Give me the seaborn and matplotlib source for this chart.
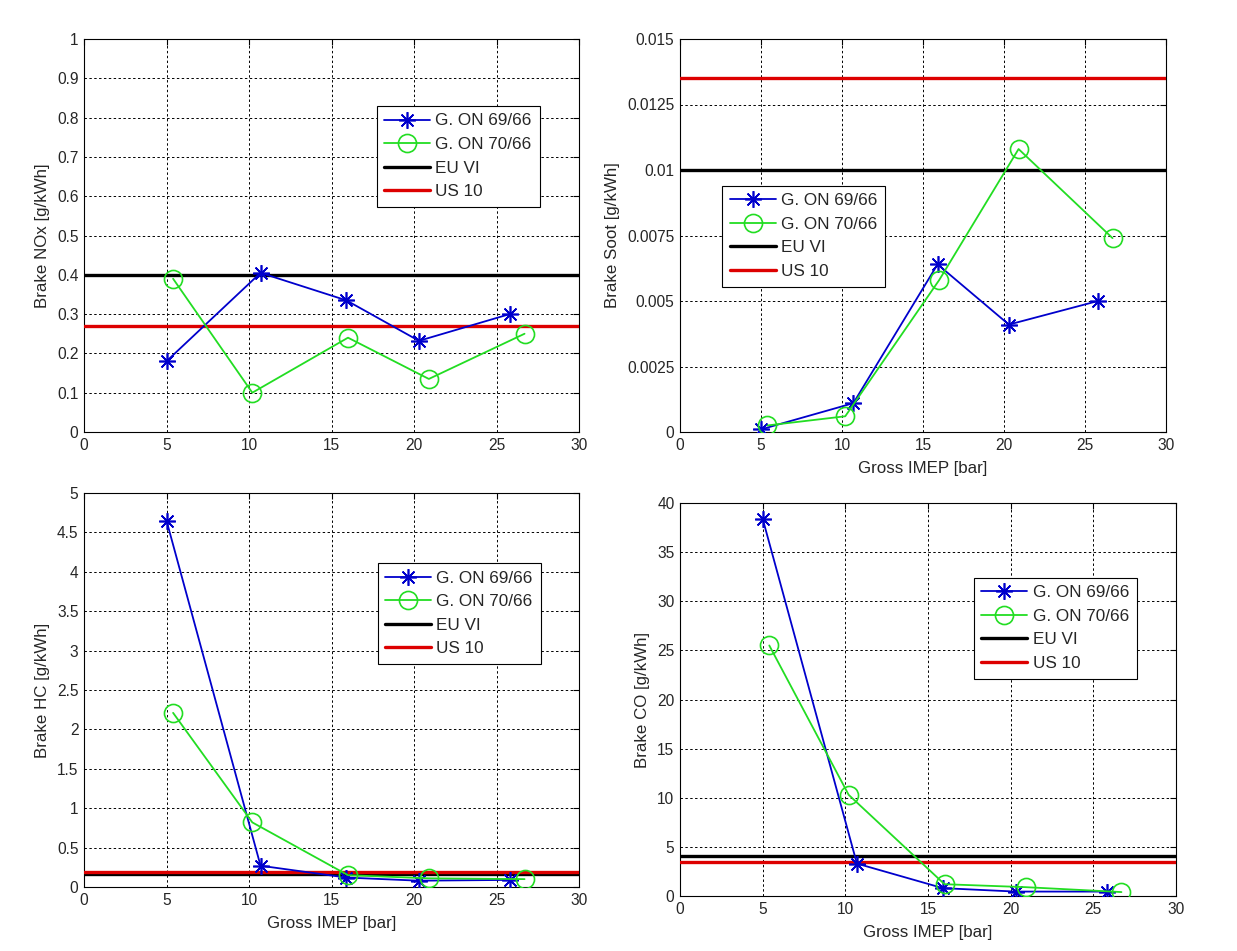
import matplotlib
matplotlib.use("Agg")
import matplotlib.pyplot as plt
import seaborn as sns
import pandas as pd
from matplotlib.lines import Line2D

# ---------------- data ----------------
x_6966 = [5.0, 10.7, 15.9, 20.3, 25.8]
x_7066 = [5.4, 10.2, 16.0, 20.9, 26.7]

nox_6966 = [0.18, 0.405, 0.335, 0.232, 0.30]
nox_7066 = [0.39, 0.10, 0.24, 0.135, 0.25]
nox_eu, nox_us = 0.40, 0.27

soot_6966 = [0.0001, 0.0011, 0.0064, 0.0041, 0.0050]
soot_7066 = [0.00025, 0.0006, 0.0058, 0.0108, 0.0074]
soot_eu, soot_us = 0.010, 0.0135

hc_6966 = [4.65, 0.27, 0.12, 0.08, 0.09]
hc_7066 = [2.21, 0.82, 0.15, 0.11, 0.10]
hc_eu, hc_us = 0.16, 0.19

co_6966 = [38.4, 3.3, 0.8, 0.45, 0.45]
co_7066 = [25.5, 10.3, 1.2, 0.9, 0.4]
co_eu, co_us = 4.1, 3.5

series_names = ["G. ON 69/66", "G. ON 70/66", "EU VI", "US 10"]
xticks = [0, 5, 10, 15, 20, 25, 30]

nox_ticks = [0, 0.1, 0.2, 0.3, 0.4, 0.5, 0.6, 0.7, 0.8, 0.9, 1.0]
nox_labels = ["0", "0.1", "0.2", "0.3", "0.4", "0.5", "0.6", "0.7", "0.8", "0.9", "1"]
soot_ticks = [0, 0.0025, 0.005, 0.0075, 0.01, 0.0125, 0.015]
soot_labels = ["0", "0.0025", "0.005", "0.0075", "0.01", "0.0125", "0.015"]
hc_ticks = [0, 0.5, 1, 1.5, 2, 2.5, 3, 3.5, 4, 4.5, 5]
hc_labels = ["0", "0.5", "1", "1.5", "2", "2.5", "3", "3.5", "4", "4.5", "5"]
co_ticks = [0, 5, 10, 15, 20, 25, 30, 35, 40]
co_labels = ["0", "5", "10", "15", "20", "25", "30", "35", "40"]

# ---------------- style ----------------
sns.set_style("white")
plt.rcParams['font.family'] = ['Liberation Sans', 'DejaVu Sans']
plt.rcParams['font.size'] = 11

W, H = 1237, 951
fig = plt.figure(figsize=(W / 100, H / 100), dpi=100)
fig.patch.set_facecolor("white")

BLUE = "#0000cc"
GREEN = "#22dd22"
RED = "#dd0000"
STAR = (8, 2, 0)


def px_axes(l, t, r, b):
    return fig.add_axes([l / W, 1 - b / H, (r - l) / W, (b - t) / H])


def panel(ax, y1, y2, eu, us, ymax, yticks, ylabels, ylabel, xlabel, leg_box):
    df1 = pd.DataFrame({"x": x_6966, "y": y1})
    df2 = pd.DataFrame({"x": x_7066, "y": y2})
    sns.lineplot(data=df1, x="x", y="y", ax=ax, color=BLUE, lw=1.3,
                 marker=STAR, markersize=12, markeredgecolor=BLUE,
                 markeredgewidth=1.2, sort=False, zorder=4)
    sns.lineplot(data=df2, x="x", y="y", ax=ax, color=GREEN, lw=1.3,
                 marker="o", markersize=13, markerfacecolor="none",
                 markeredgecolor=GREEN, markeredgewidth=1.2, sort=False, zorder=4)
    ax.axhline(eu, color="black", lw=2.4, zorder=3)
    ax.axhline(us, color=RED, lw=2.4, zorder=3)
    ax.set_xlim(0, 30)
    ax.set_ylim(0, ymax)
    ax.set_xticks(xticks)
    ax.set_xticklabels([str(v) for v in xticks])
    ax.set_yticks(yticks)
    ax.set_yticklabels(ylabels)
    ax.grid(True, color="black", linestyle=(0, (2.5, 2.5)), lw=0.7)
    ax.set_axisbelow(True)
    ax.tick_params(direction="in", length=4, top=True, right=True,
                   labelsize=11.2, pad=4, color="black")
    for s in ax.spines.values():
        s.set_color("black")
        s.set_linewidth(0.8)
    ax.set_ylabel(ylabel, fontsize=12.2, labelpad=5)
    ax.set_xlabel(xlabel, fontsize=12.2, labelpad=6)
    handles = [
        Line2D([], [], color=BLUE, lw=1.3, marker=STAR, markersize=12,
               markeredgewidth=1.2),
        Line2D([], [], color=GREEN, lw=1.3, marker="o", markersize=13,
               markerfacecolor="none", markeredgewidth=1.2),
        Line2D([], [], color="black", lw=2.4),
        Line2D([], [], color=RED, lw=2.4),
    ]
    leg = ax.legend(handles, series_names, loc="upper left",
                    bbox_to_anchor=leg_box, frameon=True, fancybox=False,
                    edgecolor="black", framealpha=1, handlelength=2.7,
                    handletextpad=0.3, borderpad=0.45, labelspacing=0.5,
                    fontsize=12.3, borderaxespad=0)
    leg.get_frame().set_linewidth(0.8)


ax1 = px_axes(84, 39, 579, 432)
panel(ax1, nox_6966, nox_7066, nox_eu, nox_us, 1.0, nox_ticks, nox_labels,
      "Brake NOx [g/kWh]", "", (0.591, 0.83))

ax2 = px_axes(680, 39, 1166, 432)
panel(ax2, soot_6966, soot_7066, soot_eu, soot_us, 0.015, soot_ticks, soot_labels,
      "Brake Soot [g/kWh]", "Gross IMEP [bar]", (0.087, 0.627))

ax3 = px_axes(84, 493, 579, 887)
panel(ax3, hc_6966, hc_7066, hc_eu, hc_us, 5.0, hc_ticks, hc_labels,
      "Brake HC [g/kWh]", "Gross IMEP [bar]", (0.593, 0.822))

ax4 = px_axes(680, 503, 1176, 896)
panel(ax4, co_6966, co_7066, co_eu, co_us, 40.0, co_ticks, co_labels,
      "Brake CO [g/kWh]", "Gross IMEP [bar]", (0.592, 0.81))

fig.savefig("out.png", dpi=100, facecolor="white")
